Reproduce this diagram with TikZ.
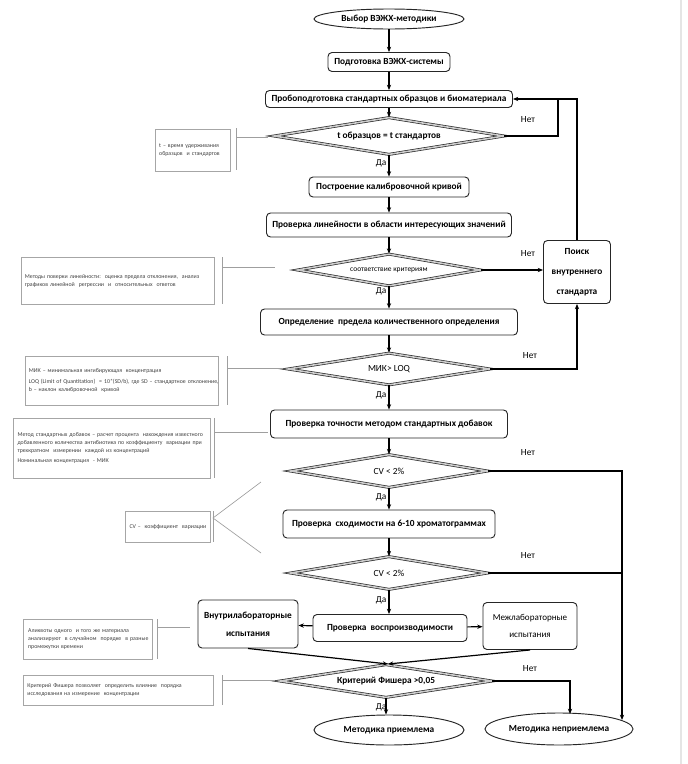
\documentclass[tikz,border=0pt]{standalone}
\usepackage{fontspec}
\setmainfont{Carlito}
\usetikzlibrary{shapes.geometric,arrows.meta}
\begin{document}
\begin{tikzpicture}[x=0.75pt,y=-0.75pt,
  sz/.style 2 args={minimum width=#1*0.75pt, minimum height=#2*0.75pt},
  box/.style={draw=black!85, line width=0.7pt, rounded corners=3pt, fill=white, inner sep=0pt,
    font=\fontsize{7}{8}\selectfont\bfseries, align=center},
  dia/.style={diamond, draw=black!85, line width=0.5pt, double=gray!40, double distance=1.2pt,
    inner sep=0pt, aspect=6, font=\fontsize{7}{8}\selectfont},
  oval/.style={ellipse, draw=black!85, line width=0.7pt, inner sep=0pt, fill=white,
    font=\fontsize{7}{8}\selectfont\bfseries},
  note/.style={draw=gray!70, line width=0.4pt, inner sep=0pt, align=left,
    font=\fontsize{4.4}{6}\selectfont, text=black!75},
  arr/.style={-{Stealth[length=4pt,width=3.2pt]}, line width=0.9pt},
  ln/.style={line width=0.9pt},
  nline/.style={draw=gray!75, line width=0.5pt},
  lbl/.style={font=\fontsize{7}{8}\selectfont, inner sep=0pt}
]
\useasboundingbox (0,0) rectangle (688,764);
\draw[gray!20, line width=0.8pt] (681,0) -- (681,764);

% main column
\node[oval, sz={150}{20}] (start) at (389,19) {Выбор ВЭЖХ-методики};
\node[box, sz={122}{19}] (prep) at (389,62) {Подготовка ВЭЖХ-системы};
\node[box, sz={247}{17}] (sample) at (389,99) {Пробоподготовка стандартных образцов и биоматериала};
\node[dia, sz={230}{37}, font=\fontsize{7}{8}\selectfont\bfseries] (d1) at (389,136) {t образцов = t стандартов};
\node[box, sz={160}{20}] (calib) at (389,187) {Построение калибровочной кривой};
\node[box, sz={245}{24}] (lin) at (389,225) {Проверка линейности в области интересующих значений};
\node[dia, sz={183}{32}, font=\fontsize{5.6}{7}\selectfont] (d2) at (389,270) {соответствие критериям};
\node[box, sz={67}{63}, font=\fontsize{7}{15}\selectfont\bfseries] (search) at (577,272) {Поиск\\внутреннего\\стандарта};
\node[box, sz={257}{26}] (loq) at (389,322) {Определение\ \ предела количественного определения};
\node[dia, sz={202}{32}] (d3) at (389,369) {МИК> LOQ};
\node[box, sz={237}{28}] (acc) at (389,424) {Проверка точности методом стандартных добавок};
\node[dia, sz={197}{33}] (d4) at (389,471) {CV < 2\%};
\node[box, sz={212}{28}] (conv) at (389,524) {Проверка\ \ сходимости на 6-10 хроматограммах};
\node[dia, sz={197}{33}] (d5) at (389,573) {CV < 2\%};
\node[box, sz={154}{27}] (repro) at (390,628) {Проверка\ \ воспроизводимости};
\node[box, sz={100}{48}, font=\fontsize{7}{13.5}\selectfont\bfseries] (intra) at (248,624) {Внутрилабораторные\\испытания};
\node[box, sz={94}{47}, font=\fontsize{6.8}{13}\selectfont] (inter) at (530,626) {Межлабораторные\\испытания};
\node[dia, sz={212}{33}, font=\fontsize{7}{8}\selectfont\bfseries] (d6) at (386,681) {Критерий Фишера >0,05};
\node[oval, sz={150}{30}] (ok) at (389,730) {Методика приемлема};
\node[oval, sz={148}{32}] (nok) at (559,729) {Методика неприемлема};

% vertical flow
\draw[arr] (start) -- (prep);
\draw[arr] (prep) -- (sample);
\draw[arr] (sample) -- (d1);
\draw[arr] (d1) -- (calib);
\draw[arr] (calib) -- (lin);
\draw[arr] (lin) -- (d2);
\draw[arr] (d2) -- (loq);
\draw[arr] (loq) -- (d3);
\draw[arr] (d3) -- (acc);
\draw[arr] (acc) -- (d4);
\draw[arr] (d4) -- (conv);
\draw[arr] (conv) -- (d5);
\draw[arr] (d5.south) -- (d5.south |- repro.north);
\draw[arr] (repro) -- (intra);
\draw[arr] (repro) -- (inter);
\coordinate (m) at (388,664);
\draw[arr] (intra.south) -- (m);
\draw[arr] (inter.south) -- (m);
\draw[arr] (d6.south) -- (d6.south |- ok.north);

% loops
\coordinate (c1) at (558,99);
\draw[arr] (d1.east) -| (c1) -- (sample.east);
\draw[ln] (search.north) |- (c1);
\draw[arr] (d2.east) -- (d2.east -| search.west);
\draw[arr] (d3.east) -| (search.south);
\coordinate (n1) at (622,720);
\coordinate (n2) at (570,714);
\draw[arr] (d4.east) -| (n1);
\draw[ln] (d5.east) -- (d5.east -| n1);
\draw[arr] (d6.east) -| (n2);

% labels
\node[lbl] (no1) at (528,120) {Нет};
\node[lbl] (no2) at (528,254) {Нет};
\node[lbl] (no3) at (530,356) {Нет};
\node[lbl] (no4) at (528,453) {Нет};
\node[lbl] (no5) at (528,556) {Нет};
\node[lbl] (no6) at (530,669) {Нет};
\node[lbl] (y1) at (381,163) {Да};
\node[lbl] (y2) at (381,291) {Да};
\node[lbl] (y3) at (381,395) {Да};
\node[lbl] (y4) at (381,497) {Да};
\node[lbl] (y5) at (381,600) {Да};
\node[lbl] (y6) at (381,707) {Да};

% annotations
\node[note, sz={75}{42}, text width=50pt] (a1) at (192.5,150) {\mbox{t – время удерживания}\\\mbox{образцов\ \ и стандартов}};
\draw[nline] (236,128) -- (236,170);
\coordinate (e1) at (268,137);
\draw[nline] (236,137) -- (e1);

\node[note, sz={193}{47}, text width=139pt] (a2) at (117.5,280.5) {\mbox{Методы поверки линейности:\ \ оценка предела отклонения,\ \ анализ}\\\mbox{графиков линейной\ \ регрессии\ \ и\ \ относительных\ \ ответов}};
\draw[nline] (222,257) -- (222,304);
\coordinate (e2) at (275,267);
\draw[nline] (222,267) -- (e2);

\node[note, sz={193}{49}, text width=139pt] (a3) at (121.5,380.5) {\mbox{МИК – минимальная ингибирующая\ \ концентрация}\\[2pt]\mbox{LOQ (Limit of Quantitation)\ \ = 10*(SD/b), где SD – стандартное отклонение,}\\\mbox{b – наклон калибровочной\ \ кривой}};
\draw[nline] (227,356) -- (227,405);
\coordinate (e3) at (283,368);
\draw[nline] (227,368) -- (e3);

\node[note, sz={197}{60}, text width=141pt] (a4) at (111.5,448) {\mbox{Метод стандартных добавок – расчет процента\ \ нахождения известного}\\\mbox{добавленного количества антибиотика по коэффициенту\ \ вариации при}\\\mbox{трехкратном\ \ измерении\ \ каждой из концентраций}\\[2pt]\mbox{Номинальная концентрация\ \ - МИК}};
\draw[nline] (214,418) -- (214,478);
\coordinate (e4) at (268,432);
\draw[nline] (214,432) -- (e4);

\node[note, sz={85}{31}, text width=57pt] (a5) at (167.5,526.5) {\mbox{CV –\ \ коэффициент\ \ вариации}};
\draw[nline] (213,511) -- (213,542);
\coordinate (e5a) at (261,482);
\coordinate (e5b) at (261,553);
\draw[nline] (e5a) -- (213,518) -- (e5b);

\node[note, sz={129}{40}, text width=89pt] (a6) at (87.5,639) {\mbox{Аликвоты одного\ \ и того же материала}\\\mbox{анализируют\ \ в случайном\ \ порядке\ \ в разные}\\\mbox{промежутки времени}};
\draw[nline] (157,619) -- (157,659);
\coordinate (e6) at (190,627);
\draw[nline] (157,627) -- (e6);

\node[note, sz={190}{30}, text width=136pt] (a7) at (118,690) {\mbox{Критерий Фишера позволяет\ \ определить влияние\ \ порядка}\\\mbox{исследования на измерение\ \ концентрации}};
\draw[nline] (222,675) -- (222,705);
\coordinate (e7) at (275,680);
\draw[nline] (222,680) -- (e7);
\end{tikzpicture}
\end{document}
